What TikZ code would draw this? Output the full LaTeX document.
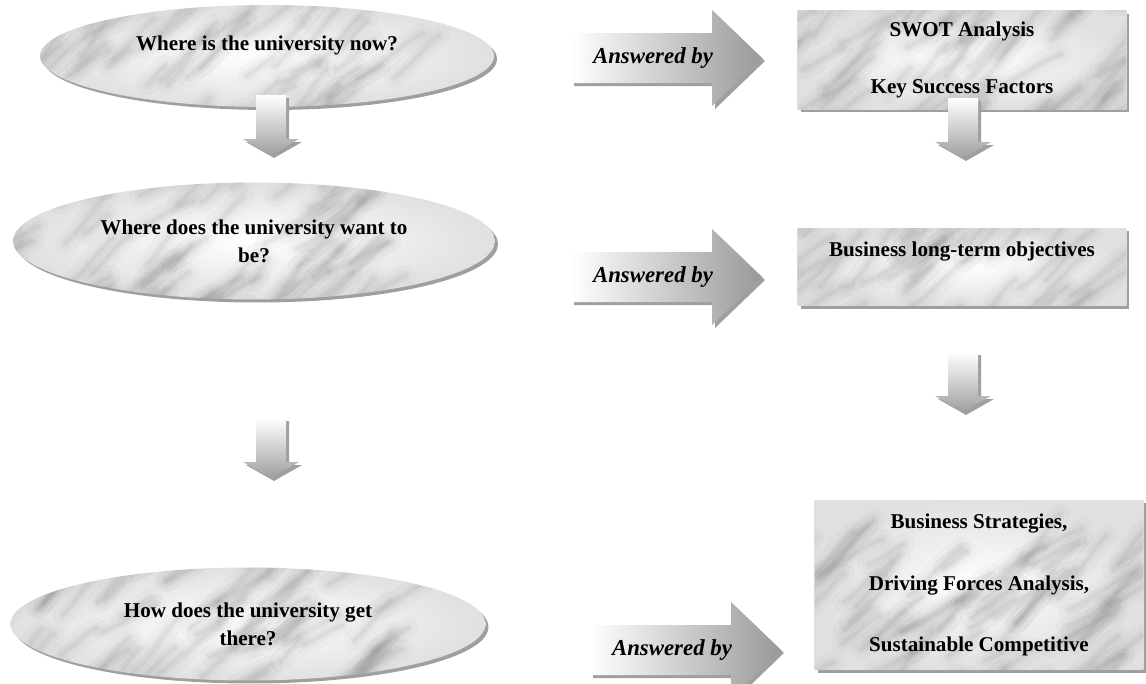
\documentclass[tikz,border=0pt]{standalone}
\usepackage{fontspec}
\setmainfont{Liberation Serif}
\usetikzlibrary{shapes.geometric,shadows}

\tikzset{
  % soft grey veins on a pale ground
  marble/.style={path picture={
    \shade[inner color=white, outer color=gray!24]
      (path picture bounding box.south west) rectangle (path picture bounding box.north east);
    \begin{scope}[shift={(path picture bounding box.center)}]
      \foreach \k in {1,...,110}{
        \pgfmathsetmacro\mx{260*rand}
        \pgfmathsetmacro\my{95*rand}
        \pgfmathsetmacro\ml{25+60*rnd}
        \pgfmathsetmacro\ma{-25-30*rnd}
        \foreach \w/\o in {12pt/.03,6pt/.045,2.5pt/.065}
          \draw[gray!70!black, line width=\w, draw opacity=\o, line cap=round]
            (\mx,\my) .. controls +(\ma+8:\ml/3) and +(\ma+188:\ml/3) .. +(\ma:\ml);
      }
    \end{scope}}},
  thinshadow/.style={drop shadow={shadow xshift=0.06cm, shadow yshift=-0.06cm,
    fill=gray!75, opacity=1}},
  pics/downarrow/.style={code={
    \path[thinshadow, top color=white, bottom color=gray!75]
      (-15,0) -- (15,0) -- (15,44) -- (28,44) -- (0,60) -- (-28,44) -- (-15,44) -- cycle;
  }},
  pics/answerarrow/.style={code={
    \path[thinshadow, left color=white, right color=gray!80]
      (0,-25) -- (141,-25) -- (141,-48) -- (191,0) -- (141,48) -- (141,25) -- (0,25) -- cycle;
  }}
}

\begin{document}
\begin{tikzpicture}[x=0.02cm, y=-0.02cm,
  every node/.style={font=\fontsize{12}{16}\selectfont\bfseries, align=center},
  question/.style={ellipse, marble, thinshadow, inner sep=0pt},
  answer/.style={rectangle, marble, thinshadow, inner sep=0pt, minimum width=6.58cm},
  answered/.style={font=\fontsize{13}{16}\selectfont\bfseries\itshape}]
\pgfmathsetseed{27}
\useasboundingbox (0,0) rectangle (1146,683);

% questions on the left
\node[question, minimum width=9.08cm, minimum height=2.04cm, text depth=15pt]
  (now) at (267,56) {Where is the university now?};
\node[question, minimum width=9.64cm, minimum height=2.34cm]
  (want) at (254,241) {Where does the university want to\\be?};
\node[question, minimum width=9.5cm, minimum height=2.26cm]
  (get) at (248,624) {How does the university get\\there?};

% answers on the right
\node[answer, minimum height=1.98cm] (swot) at (962,60)
  {SWOT Analysis\\[16pt]Key Success Factors};
\node[answer, minimum height=1.56cm, text depth=20pt] (goals) at (962,267)
  {Business long-term objectives};
\node[answer, minimum height=3.4cm] (strat) at (979,585)
  {Business Strategies,\\[19pt]Driving Forces Analysis,\\[19pt]Sustainable Competitive};

% block arrows
\pic at (271,95) {downarrow};
\pic at (271,418) {downarrow};
\pic at (963,98) {downarrow};
\pic at (963,352) {downarrow};

\pic at (571,58) {answerarrow};
\pic at (571,277) {answerarrow};
\pic at (590,650) {answerarrow};
\node[answered] (by1) at (653,58) {Answered by};
\node[answered] (by2) at (653,277) {Answered by};
\node[answered] (by3) at (672,650) {Answered by};
\end{tikzpicture}
\end{document}
